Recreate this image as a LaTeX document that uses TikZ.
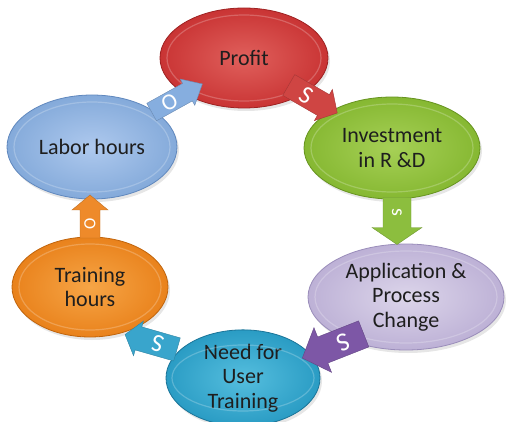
\documentclass[tikz,border=0pt]{standalone}
\usepackage{fontspec}
\setmainfont{Carlito}
\usetikzlibrary{shapes.geometric,shadows}
\definecolor{txt}{HTML}{1E1E1E}
\definecolor{redB}{HTML}{C93434}\definecolor{redL}{HTML}{E0605C}\definecolor{redD}{HTML}{9E2222}
\definecolor{grnB}{HTML}{86B832}\definecolor{grnL}{HTML}{A6D056}\definecolor{grnD}{HTML}{679420}
\definecolor{lavB}{HTML}{BDB1D6}\definecolor{lavL}{HTML}{DCD5EA}\definecolor{lavD}{HTML}{9A8DBA}
\definecolor{cyaB}{HTML}{2A9CC4}\definecolor{cyaL}{HTML}{55BEDE}\definecolor{cyaD}{HTML}{1A7498}
\definecolor{oraB}{HTML}{E9821C}\definecolor{oraL}{HTML}{F6A546}\definecolor{oraD}{HTML}{C0640C}
\definecolor{bluB}{HTML}{84AADA}\definecolor{bluL}{HTML}{AEC9EE}\definecolor{bluD}{HTML}{6088BE}
\definecolor{aBlu}{HTML}{86AEDF}\definecolor{aRed}{HTML}{CF4543}\definecolor{aGrn}{HTML}{8CBE3E}
\definecolor{aPur}{HTML}{7D57A6}\definecolor{aCya}{HTML}{39A5CC}\definecolor{aOra}{HTML}{EE8A2A}
\newcommand\blockarr[9]{%
  \begin{scope}[shift={#2}, rotate=#3]
    \pgfmathsetmacro\blkA{#4/2}\pgfmathsetmacro\blkB{#4/2-#7}
    \fill[#8, draw=#8!80!black, line width=0.4pt] (-\blkA,-#5) -- (\blkB,-#5) -- (\blkB,-#6) -- (\blkA,0) -- (\blkB,#6) -- (\blkB,#5) -- (-\blkA,#5) -- cycle;
    \node[text=white, rotate=#3, inner sep=0pt] (#1) at ({-#7/2},0) {#9};
  \end{scope}}
\begin{document}
\begin{tikzpicture}[x=1pt,y=1pt,
  bub/.style={ellipse, inner sep=0pt, align=center, text=txt,
    font=\fontsize{22}{24.5}\selectfont, line width=0.8pt,
    drop shadow={opacity=0.2, shadow xshift=2pt, shadow yshift=-3pt}},
  gloss/.style={white, opacity=0.22, line width=1.2pt}]
\useasboundingbox (0,0) rectangle (506,421);
% ellipses
\node[bub, inner color=redL, outer color=redB, draw=redD, minimum width=168, minimum height=100] (profit) at (244,363) {Profit};
\node[bub, inner color=grnL, outer color=grnB, draw=grnD, minimum width=176, minimum height=102] (invest) at (392,273) {Investment\\in R \&D};
\node[bub, inner color=lavL, outer color=lavB, draw=lavD, minimum width=196, minimum height=106] (appl) at (406,124) {Application \&\\Process\\Change};
\node[bub, inner color=cyaL, outer color=cyaB, draw=cyaD, minimum width=154, minimum height=78] (need) at (243,43) {Need for\\User\\Training};
\node[bub, inner color=oraL, outer color=oraB, draw=oraD, minimum width=156, minimum height=100] (train) at (90,134) {Training\\hours};
\node[bub, inner color=bluL, outer color=bluB, draw=bluD, minimum width=170, minimum height=104] (labor) at (92,274) {Labor hours};
% gloss rings
\draw[gloss] (profit.center) ellipse (77 and 43);
\draw[gloss] (invest.center) ellipse (81 and 44);
\draw[gloss] (appl.center) ellipse (91 and 46);
\draw[gloss] (need.center) ellipse (71 and 33);
\draw[gloss] (train.center) ellipse (71 and 43);
\draw[gloss] (labor.center) ellipse (78 and 45);
% block arrows
\blockarr{a1}{(177,323)}{29}{58}{10}{15}{17}{aBlu}{\fontsize{23}{23}\selectfont O}
\blockarr{a2}{(313,322)}{-30}{56}{12}{18}{16}{aRed}{\fontsize{25}{25}\selectfont S}
\blockarr{a3}{(397,200)}{-90}{47}{14}{25}{17}{aGrn}{\fontsize{20}{20}\selectfont s}
\blockarr{a4}{(333,75)}{201.5}{66}{14}{24}{22}{aPur}{\fontsize{26}{26}\selectfont S}
\blockarr{a5}{(151,79)}{164}{54}{12}{18}{14}{aCya}{\fontsize{25}{25}\selectfont S}
\blockarr{a6}{(90,204.5)}{90}{43}{10}{18}{15}{aOra}{\fontsize{17}{17}\selectfont O}
\end{tikzpicture}
\end{document}
